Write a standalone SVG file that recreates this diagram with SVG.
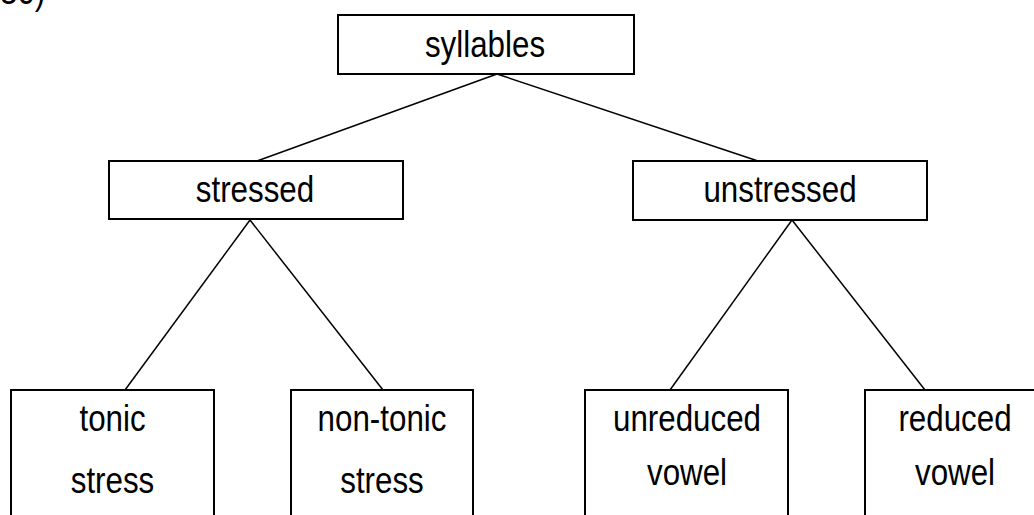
<svg xmlns="http://www.w3.org/2000/svg" width="1034" height="515" viewBox="0 0 1034 515">
<style>
rect.box{fill:#fff;stroke:#000;stroke-width:2}
line{stroke:#000;stroke-width:1.5}
text{font-family:"Liberation Sans",Arial,sans-serif;font-size:36px;fill:#000;text-anchor:middle}
</style>
<rect width="1034" height="515" fill="#fff"/>
<text transform="translate(0,4) scale(0.87,1)" style="text-anchor:start">30)</text>
<g id="connectors">
<line x1="497" y1="74" x2="257" y2="161"/>
<line x1="497" y1="74" x2="758" y2="161"/>
<line x1="250" y1="220" x2="125" y2="390"/>
<line x1="250" y1="220" x2="383" y2="390"/>
<line x1="792" y1="220" x2="670" y2="390"/>
<line x1="792" y1="220" x2="925" y2="390"/>
</g>
<g id="syllables">
<rect class="box" x="338" y="15" width="296" height="59"/>
<text transform="translate(485,57) scale(0.87,1)">syllables</text>
</g>
<g id="stressed">
<rect class="box" x="109" y="161" width="294" height="58"/>
<text transform="translate(255,202) scale(0.87,1)">stressed</text>
</g>
<g id="unstressed">
<rect class="box" x="633" y="161" width="294" height="59"/>
<text transform="translate(780,202) scale(0.87,1)">unstressed</text>
</g>
<g id="tonic">
<rect class="box" x="11" y="390" width="203" height="140"/>
<text transform="translate(112.5,431) scale(0.87,1)">tonic</text>
<text transform="translate(112.5,493) scale(0.87,1)">stress</text>
</g>
<g id="nontonic">
<rect class="box" x="291" y="390" width="182" height="140"/>
<text transform="translate(382,431) scale(0.87,1)">non-tonic</text>
<text transform="translate(382,493) scale(0.87,1)">stress</text>
</g>
<g id="unreduced">
<rect class="box" x="585" y="390" width="203" height="140"/>
<text transform="translate(687,431) scale(0.87,1)">unreduced</text>
<text transform="translate(687,485) scale(0.87,1)">vowel</text>
</g>
<g id="reduced">
<rect class="box" x="865" y="390" width="180" height="140"/>
<text transform="translate(955,431) scale(0.87,1)">reduced</text>
<text transform="translate(955,485) scale(0.87,1)">vowel</text>
</g>
</svg>
